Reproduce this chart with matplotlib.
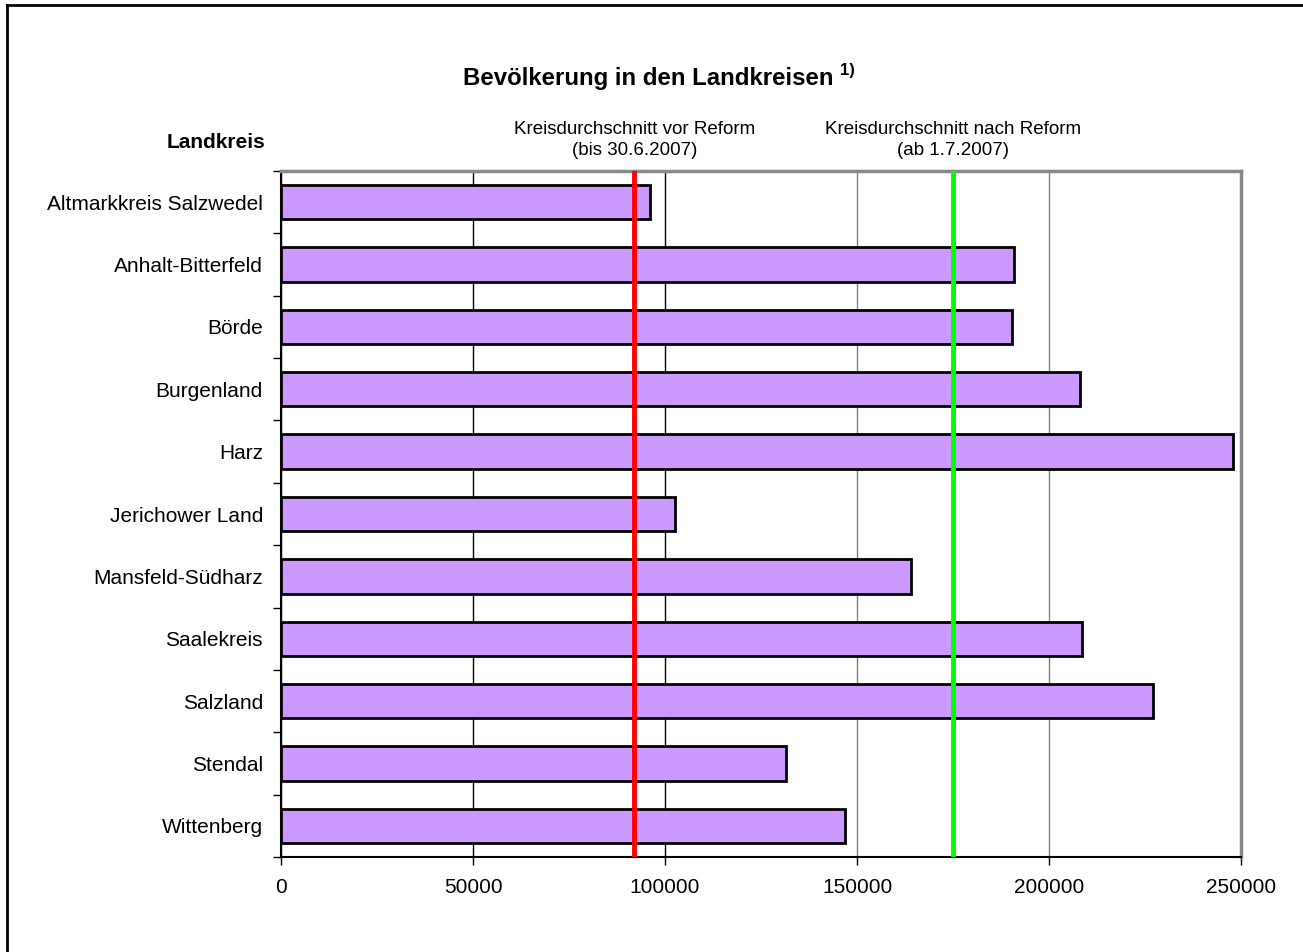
import matplotlib

matplotlib.use("Agg")
import matplotlib.pyplot as plt
from matplotlib.lines import Line2D

plt.rcParams["font.family"] = ["Liberation Sans", "DejaVu Sans"]

landkreise = [
    "Altmarkkreis Salzwedel",
    "Anhalt-Bitterfeld",
    "Börde",
    "Burgenland",
    "Harz",
    "Jerichower Land",
    "Mansfeld-Südharz",
    "Saalekreis",
    "Salzland",
    "Stendal",
    "Wittenberg",
]
bevoelkerung = [96200, 190900, 190300, 208000, 247800, 102600, 164000, 208600, 227000, 131500, 147000]

schnitt_vor = 92000
schnitt_nach = 175000
x_ticks = [0, 50000, 100000, 150000, 200000, 250000]

W, H = 1303, 952
fig = plt.figure(figsize=(W / 100, H / 100), dpi=100, facecolor="white")
ax = fig.add_axes([281 / W, 1 - 857 / H, (1241 - 281) / W, (857 - 171) / H])

y = list(range(len(landkreise)))
ax.barh(y, bevoelkerung, height=0.55, color="#CC99FF", edgecolor="black", linewidth=2, zorder=3)

ax.axvline(schnitt_vor, color="#FF0000", linewidth=3.5, zorder=4)
ax.axvline(schnitt_nach, color="#00FF00", linewidth=3.5, zorder=4)

ax.set_xlim(0, 250000)
ax.set_ylim(len(landkreise) - 0.5, -0.5)
ax.set_xticks(x_ticks)
ax.set_xticklabels([str(v) for v in x_ticks], fontsize=15)
ax.set_yticks(y)
ax.set_yticklabels(landkreise, fontsize=15)
ax.set_yticks([i - 0.5 for i in range(len(landkreise) + 1)], minor=True)

ax.tick_params(axis="y", which="major", length=0, pad=13)
ax.tick_params(axis="y", which="minor", length=6, width=1, color="black", direction="out")
ax.tick_params(axis="x", which="major", length=6, width=1, color="black", pad=9)

ax.grid(axis="x", linewidth=1, zorder=0)
grid_colors = ["black", "black", "black", "#808080", "#808080", "#808080"]
for line, c in zip(ax.get_xgridlines(), grid_colors):
    line.set_color(c)
ax.set_axisbelow(True)

ax.spines["left"].set_color("black")
ax.spines["left"].set_linewidth(1.5)
ax.spines["bottom"].set_color("black")
ax.spines["bottom"].set_linewidth(1.5)
ax.spines["top"].set_color("#888888")
ax.spines["top"].set_linewidth(2.5)
ax.spines["right"].set_color("#888888")
ax.spines["right"].set_linewidth(2.5)

# title with footnote mark
fig.text(648 / W, 1 - 78 / H, "Bevölkerung in den Landkreisen", fontsize=17.3,
         fontweight="bold", ha="center", va="center")
fig.text(840 / W, 1 - 70 / H, "1)", fontsize=12, fontweight="bold", ha="left", va="center")

fig.text(265 / W, 1 - 143 / H, "Landkreis", fontsize=15, fontweight="bold", ha="right", va="center")

trans = ax.get_xaxis_transform()
ax.text(schnitt_vor, 1 + (171 - 140) / (857 - 171), "Kreisdurchschnitt vor Reform\n(bis 30.6.2007)",
        transform=trans, fontsize=13.5, ha="center", va="center", linespacing=1.3)
ax.text(schnitt_nach, 1 + (171 - 140) / (857 - 171), "Kreisdurchschnitt nach Reform\n(ab 1.7.2007)",
        transform=trans, fontsize=13.5, ha="center", va="center", linespacing=1.3)

# outer frame (only top and left edges visible)
fig.add_artist(Line2D([7 / W, 7 / W], [0, 1 - 5 / H], color="black", linewidth=2))
fig.add_artist(Line2D([7 / W, 1], [1 - 5 / H, 1 - 5 / H], color="black", linewidth=2))

fig.savefig("out.png", dpi=100, facecolor="white")
